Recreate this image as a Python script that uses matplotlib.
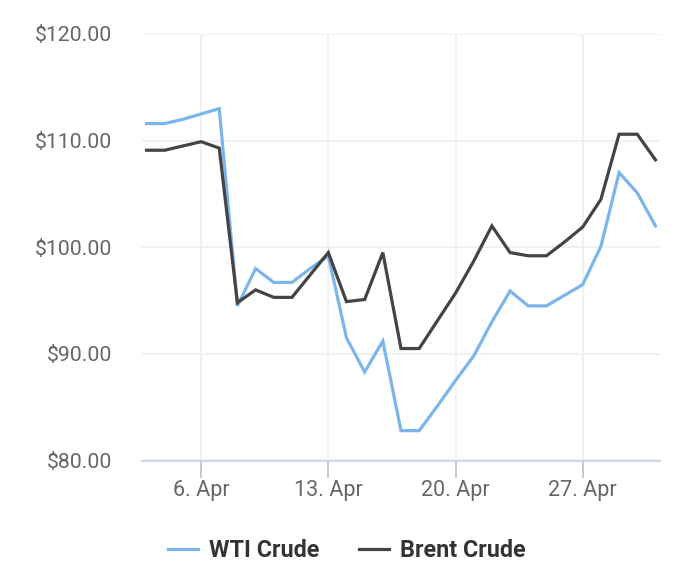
import numpy as np
import pandas as pd
import matplotlib
matplotlib.use("Agg")
import matplotlib.pyplot as plt
import matplotlib.dates as mdates
from matplotlib.ticker import FuncFormatter
from matplotlib.lines import Line2D

# daily prices, 3 Apr .. 1 May
dates = pd.date_range("2022-04-03", "2022-05-01", freq="D")
wti = [111.6, 111.6, 112.0, 112.5, 113.0, 94.5, 98.0, 96.7, 96.7, 98.0,
       99.2, 91.5, 88.3, 91.2, 82.8, 82.8, 85.1, 87.5, 89.8, 93.0,
       95.9, 94.5, 94.5, 95.5, 96.5, 100.1, 107.0, 105.1, 102.0]
brent = [109.1, 109.1, 109.5, 109.9, 109.3, 94.8, 96.0, 95.3, 95.3, 97.4,
         99.5, 94.9, 95.1, 99.5, 90.5, 90.5, 93.1, 95.7, 98.7, 102.0,
         99.5, 99.2, 99.2, 100.5, 101.9, 104.5, 110.6, 110.6, 108.2]
series_names = ["WTI Crude", "Brent Crude"]
colors = ["#7cb5ec", "#434348"]
y_ticks = [80, 90, 100, 110, 120]
x_ticks = pd.to_datetime(["2022-04-06", "2022-04-13", "2022-04-20", "2022-04-27"])

plt.rcParams["font.family"] = ["Roboto", "DejaVu Sans"]

fig = plt.figure(figsize=(7, 5.81), dpi=100)
ax = fig.add_axes([142 / 700, 1 - 460.5 / 581, (660 - 142) / 700, (460.5 - 34) / 581])

ax.plot(dates, wti, color=colors[0], lw=2.3, solid_joinstyle="miter")
ax.plot(dates, brent, color=colors[1], lw=2.3, solid_joinstyle="miter")

ax.set_ylim(80, 120)
ax.set_yticks(y_ticks)
ax.yaxis.set_major_formatter(FuncFormatter(lambda v, p: f"${v:.2f}"))
ax.set_xlim(dates[0] - pd.Timedelta(hours=6), dates[-1] + pd.Timedelta(hours=6))
ax.set_xticks(x_ticks)
ax.xaxis.set_major_formatter(mdates.DateFormatter("%-d. %b"))

ax.grid(True, color="#efefef", lw=1.2)
ax.set_axisbelow(True)
for s in ["top", "right", "left"]:
    ax.spines[s].set_visible(False)
ax.spines["bottom"].set_color("#ccd6eb")
ax.spines["bottom"].set_linewidth(1.4)

ax.tick_params(axis="y", length=0, pad=21.6, labelsize=15.3, labelcolor="#666666")
ax.tick_params(axis="x", length=12.2, width=1.2, color="#bfbfbf", pad=2,
               labelsize=15.5, labelcolor="#666666")

handles = [Line2D([], [], color=c, lw=2.3) for c in colors]
fig.legend(handles, series_names, loc="center", bbox_to_anchor=(0.495, 0.052),
           ncol=2, frameon=False, handlelength=1.3, handletextpad=0.45,
           columnspacing=1.7, prop={"weight": "bold", "size": 16.8},
           labelcolor="#333333")

fig.savefig("out.png", dpi=100)
